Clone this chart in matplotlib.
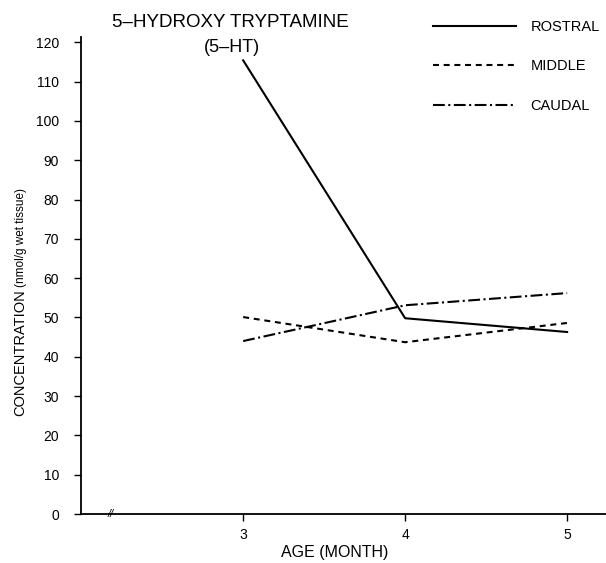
import matplotlib
matplotlib.use("Agg")
import matplotlib.pyplot as plt

plt.rcParams['font.family'] = ['Liberation Sans', 'DejaVu Sans']
plt.rcParams['lines.scale_dashes'] = False

# data
months = [3, 4, 5]
rostral = [115.4, 49.8, 46.3]
middle = [50.1, 43.7, 48.6]
caudal = [44.0, 53.1, 56.2]
yticks = list(range(0, 121, 10))

fig = plt.figure(figsize=(6.06, 5.63), dpi=100)
ax = fig.add_axes([0.134, 0.087, 0.866, 0.847])

ax.plot(months, rostral, color='black', lw=1.5, label='ROSTRAL')
ax.plot(months, middle, color='black', lw=1.5, dashes=(4.3, 3.4), label='MIDDLE')
ax.plot(months, caudal, color='black', lw=1.5, dashes=(8.5, 2.5, 1.5, 2.5), label='CAUDAL')

ax.set_xlim(2.0, 5.24)
ax.set_ylim(0, 121.3)
ax.set_xticks(months)
ax.set_yticks(yticks)
ax.tick_params(direction='out', length=5, width=1, labelsize=10, pad=5)
ax.tick_params(axis='y', pad=11)
for s in ['top', 'right']:
    ax.spines[s].set_visible(False)
for s in ['left', 'bottom']:
    ax.spines[s].set_linewidth(1.3)

# axis break mark
ax.text(2.18, 0, '//', ha='center', va='center', fontsize=8, fontstyle='italic')

fig.text(0.38, 0.96, '5\u2013HYDROXY TRYPTAMINE', ha='center', va='center', fontsize=13.5)
fig.text(0.382, 0.915, '(5\u2013HT)', ha='center', va='center', fontsize=13)

# y label: capitals larger, units smaller as in the original
fig.text(0.034, 0.373, 'CONCENTRATION', rotation=90,
         ha='center', va='center', fontsize=10.5)
fig.text(0.034, 0.578, '(nmol/g wet tissue)', rotation=90,
         ha='center', va='center', fontsize=8.5)
fig.text(0.553, 0.018, 'AGE (MONTH)', ha='center', va='center', fontsize=11.5)

ax.legend(loc='upper left', bbox_to_anchor=(0.714, 0.965), bbox_transform=fig.transFigure,
          frameon=False, fontsize=10.5, handlelength=5.7, handletextpad=1.0,
          labelspacing=1.75, borderpad=0, borderaxespad=0)

plt.savefig('out.png', dpi=100)
